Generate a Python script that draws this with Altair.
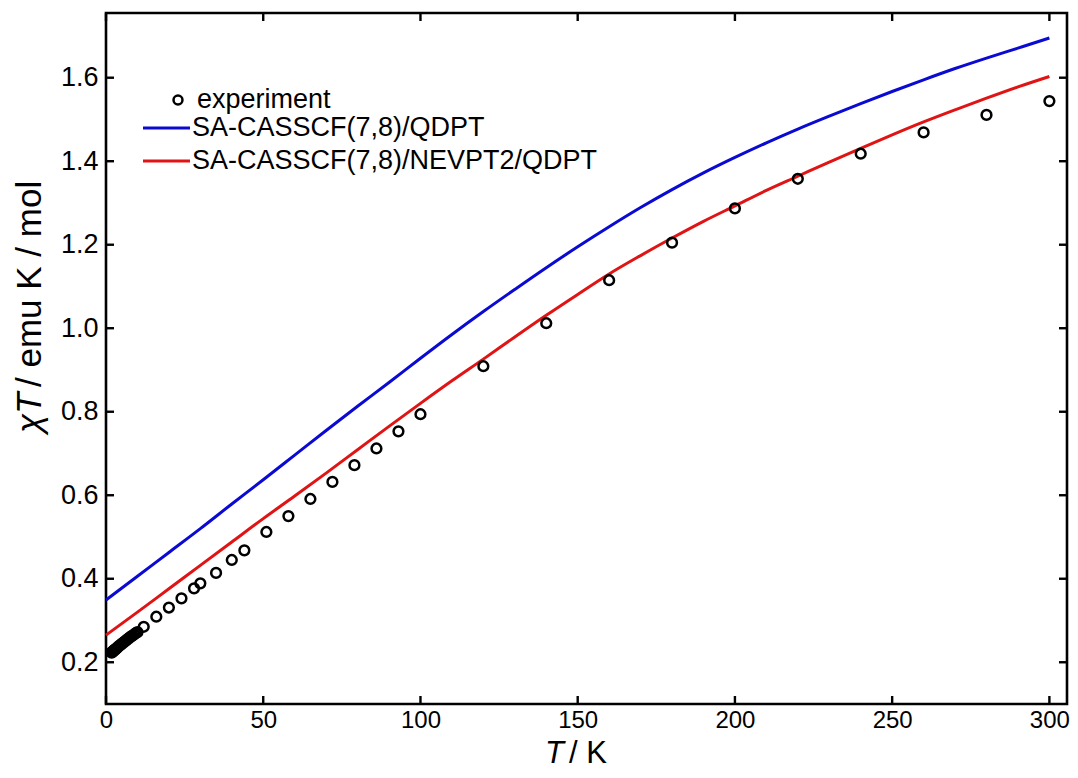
import altair as alt
import pandas as pd

# ---- data ----
T_exp = [1.8, 2.0, 2.2, 2.4, 2.6, 2.8, 3.0, 3.3, 3.6, 4.0, 4.5, 5.0, 5.5, 6.0, 6.5,
         7.0, 7.5, 8.0, 8.5, 9.0, 9.5, 10.0, 12, 16, 20, 24, 28, 30, 35, 40, 44,
         51, 58, 65, 72, 79, 86, 93, 100, 120, 140, 160, 180, 200, 220, 240, 260,
         280, 300]
chiT_exp = [0.223, 0.225, 0.226, 0.227, 0.229, 0.230, 0.231, 0.233, 0.235, 0.238,
            0.241, 0.244, 0.247, 0.250, 0.253, 0.256, 0.259, 0.262, 0.264, 0.267,
            0.270, 0.272, 0.285, 0.309, 0.331, 0.353, 0.377, 0.389, 0.414, 0.445,
            0.468, 0.512, 0.550, 0.591, 0.632, 0.672, 0.712, 0.753, 0.794, 0.909,
            1.012, 1.115, 1.205, 1.287, 1.358, 1.418, 1.469, 1.511, 1.544]

T_calc = [0, 10, 20, 30, 40, 50, 60, 70, 80, 90, 100, 110, 120, 130, 140, 150,
          160, 170, 180, 190, 200, 210, 220, 230, 240, 250, 260, 270, 280, 290, 300]
chiT_qdpt = [0.349, 0.406, 0.463, 0.520, 0.579, 0.637, 0.696, 0.755, 0.813, 0.870,
             0.928, 0.985, 1.040, 1.093, 1.145, 1.195, 1.243, 1.289, 1.332, 1.372,
             1.409, 1.444, 1.477, 1.508, 1.538, 1.567, 1.595, 1.622, 1.647, 1.671,
             1.695]
chiT_nevpt2 = [0.265, 0.320, 0.376, 0.432, 0.488, 0.544, 0.598, 0.653, 0.709, 0.765,
               0.820, 0.874, 0.926, 0.979, 1.031, 1.081, 1.130, 1.174, 1.216, 1.256,
               1.293, 1.330, 1.364, 1.398, 1.431, 1.463, 1.494, 1.523, 1.551, 1.578,
               1.603]

x_ticks = [0, 50, 100, 150, 200, 250, 300]
y_ticks = [0.2, 0.4, 0.6, 0.8, 1.0, 1.2, 1.4, 1.6]

legend_labels = ["experiment", "SA-CASSCF(7,8)/QDPT", "SA-CASSCF(7,8)/NEVPT2/QDPT"]

# ---- layout ----
W, H = 961, 691
SANS = "Liberation Sans, Arial, Helvetica, sans-serif"
BLUE = "#0a0ad2"
RED = "#e01414"
NB = "\u00a0"

XDOM = [0, 305.6]
YDOM = [0.1, 1.755]

xs = alt.Scale(domain=XDOM, nice=False, zero=False)
ys = alt.Scale(domain=YDOM, nice=False, zero=False)

df_exp = pd.DataFrame({"T": T_exp, "chiT": chiT_exp})
df_calc = pd.DataFrame({"T": T_calc, "qdpt": chiT_qdpt, "nevpt2": chiT_nevpt2})
df_xt = pd.DataFrame({"v": x_ticks})
df_yt = pd.DataFrame({"v": y_ticks})
one = pd.DataFrame({"a": [0]})

xaxis = alt.Axis(values=x_ticks, title=None, grid=False, domain=False, ticks=False,
                 labelFont=SANS, labelFontSize=24, labelColor="black", labelPadding=4,
                 labelFlush=False, labelOverlap=False)
yaxis = alt.Axis(values=y_ticks, title=None, grid=False, domain=False, ticks=False,
                 format=".1f", labelFont=SANS, labelFontSize=27, labelColor="black",
                 labelPadding=8, labelOverlap=False)

base_exp = alt.Chart(df_exp).mark_point(shape="circle", filled=False, size=95,
                                        strokeWidth=2.5, color="black", opacity=1).encode(
    x=alt.X("T:Q", scale=xs, axis=xaxis),
    y=alt.Y("chiT:Q", scale=ys, axis=yaxis),
)

line_qdpt = alt.Chart(df_calc).mark_line(color=BLUE, strokeWidth=3,
                                         interpolate="monotone").encode(
    x=alt.X("T:Q", scale=xs), y=alt.Y("qdpt:Q", scale=ys))
line_nev = alt.Chart(df_calc).mark_line(color=RED, strokeWidth=3,
                                        interpolate="monotone").encode(
    x=alt.X("T:Q", scale=xs), y=alt.Y("nevpt2:Q", scale=ys))

TL = 8
TW = 2.4
tick_b = alt.Chart(df_xt).mark_rule(color="black", strokeWidth=TW).encode(
    x=alt.X("v:Q", scale=xs), y=alt.value(H), y2=alt.value(H - TL))
tick_t = alt.Chart(df_xt).mark_rule(color="black", strokeWidth=TW).encode(
    x=alt.X("v:Q", scale=xs), y=alt.value(0), y2=alt.value(TL))
tick_l = alt.Chart(df_yt).mark_rule(color="black", strokeWidth=TW).encode(
    y=alt.Y("v:Q", scale=ys), x=alt.value(0), x2=alt.value(TL))
tick_r = alt.Chart(df_yt).mark_rule(color="black", strokeWidth=TW).encode(
    y=alt.Y("v:Q", scale=ys), x=alt.value(W), x2=alt.value(W - TL))

# ---- legend ----
LEG_FS = 27
leg_pt = alt.Chart(one).mark_point(shape="circle", filled=False, size=80, strokeWidth=2.5,
                                   color="black", opacity=1).encode(
    x=alt.value(72), y=alt.value(87))
leg_t0 = alt.Chart(one).mark_text(text=legend_labels[0], font=SANS, fontSize=LEG_FS,
                                  align="left", baseline="middle", color="black").encode(
    x=alt.value(91), y=alt.value(87))
leg_l1 = alt.Chart(one).mark_rule(color=BLUE, strokeWidth=3).encode(
    x=alt.value(37), x2=alt.value(84), y=alt.value(115))
leg_t1 = alt.Chart(one).mark_text(text=legend_labels[1], font=SANS, fontSize=LEG_FS,
                                  align="left", baseline="middle", color="black").encode(
    x=alt.value(86), y=alt.value(115))
leg_l2 = alt.Chart(one).mark_rule(color=RED, strokeWidth=3).encode(
    x=alt.value(37), x2=alt.value(84), y=alt.value(148))
leg_t2 = alt.Chart(one).mark_text(text=legend_labels[2], font=SANS, fontSize=LEG_FS,
                                  align="left", baseline="middle", color="black").encode(
    x=alt.value(86), y=alt.value(148))

# ---- axis titles (mixed italic) ----
xt_T = alt.Chart(one).mark_text(text="T", font=SANS, fontSize=31, fontStyle="italic",
                                align="left", baseline="bottom", color="black").encode(
    x=alt.value(439), y=alt.value(757))
xt_rest = alt.Chart(one).mark_text(text=NB + "/" + NB + "K", font=SANS, fontSize=31,
                                   align="left", baseline="bottom", color="black").encode(
    x=alt.value(463), y=alt.value(757))

yt_chi = alt.Chart(one).mark_text(text="χT", font=SANS, fontSize=35, fontStyle="italic",
                                  angle=270, align="left", baseline="middle",
                                  color="black").encode(
    x=alt.value(-76), y=alt.value(420))
yt_rest = alt.Chart(one).mark_text(text=NB + "/" + NB + "emu" + NB + "K" + NB + "/" + NB + "mol",
                                   font=SANS, fontSize=35,
                                   angle=270, align="left", baseline="middle",
                                   color="black").encode(
    x=alt.value(-76), y=alt.value(374))

chart = alt.layer(
    line_qdpt, line_nev, base_exp,
    tick_b, tick_t, tick_l, tick_r,
    leg_pt, leg_t0, leg_l1, leg_t1, leg_l2, leg_t2,
    xt_T, xt_rest, yt_chi, yt_rest,
).properties(
    width=W, height=H,
    autosize=alt.AutoSizeParams(type="none"),
    padding={"left": 98, "top": 5, "right": 3, "bottom": 66},
    background="white",
).configure_view(stroke="black", strokeWidth=2.6)

chart.save("out.html", embed_options={"renderer": "svg", "actions": False})
